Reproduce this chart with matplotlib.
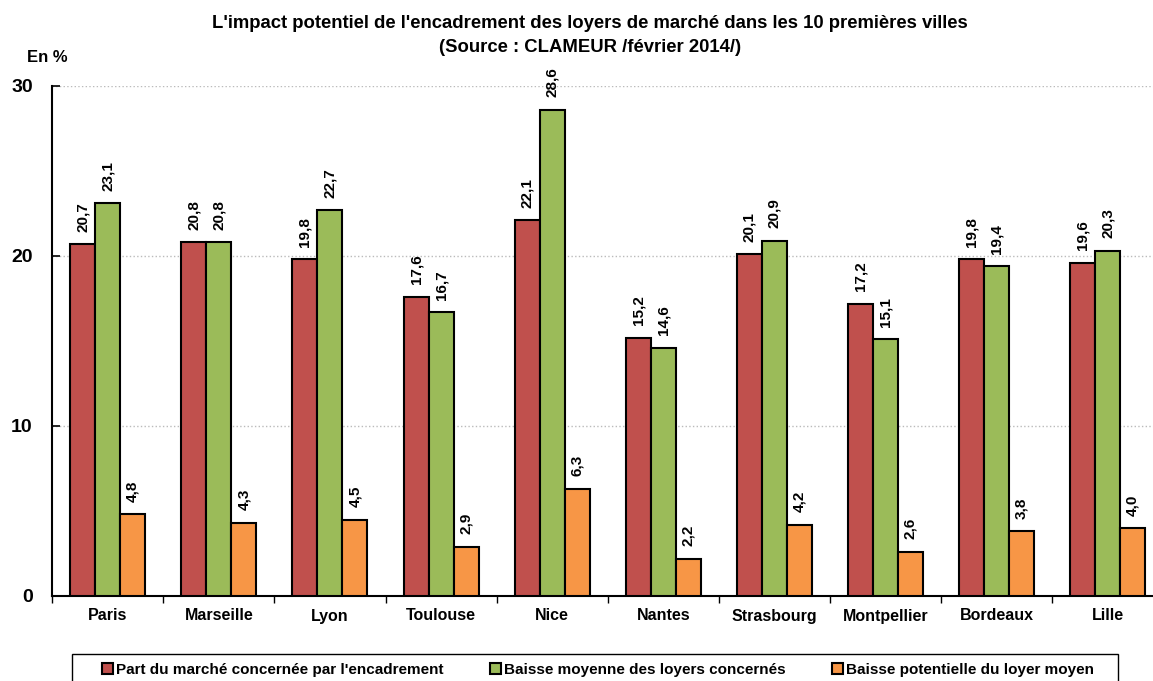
import matplotlib.pyplot as plt
from matplotlib.patches import Rectangle
import numpy as np

villes = ['Paris', 'Marseille', 'Lyon', 'Toulouse', 'Nice', 'Nantes',
          'Strasbourg', 'Montpellier', 'Bordeaux', 'Lille']
part_marche = [20.7, 20.8, 19.8, 17.6, 22.1, 15.2, 20.1, 17.2, 19.8, 19.6]
baisse_moyenne = [23.1, 20.8, 22.7, 16.7, 28.6, 14.6, 20.9, 15.1, 19.4, 20.3]
baisse_potentielle = [4.8, 4.3, 4.5, 2.9, 6.3, 2.2, 4.2, 2.6, 3.8, 4.0]

series = [
    (part_marche, "Part du marché concernée par l'encadrement", '#C0504D'),
    (baisse_moyenne, 'Baisse moyenne des loyers concernés', '#9BBB59'),
    (baisse_potentielle, 'Baisse potentielle du loyer moyen', '#F79646'),
]

plt.rcParams['font.family'] = ['Liberation Sans', 'DejaVu Sans']
plt.rcParams['font.weight'] = 'bold'

W, H = 1153, 681
fig = plt.figure(figsize=(W / 100, H / 100), dpi=100)
ax = fig.add_axes([52.2 / W, 85 / H, 1111 / W, 510 / H])

x = np.arange(len(villes))
bw = 0.225
for i, (vals, label, color) in enumerate(series):
    pos = x + (i - 1) * bw
    ax.bar(pos, vals, width=bw, color=color, edgecolor='black',
           linewidth=1.5, label=label, zorder=3)
    for p, v in zip(pos, vals):
        ax.annotate(f'{v:.1f}'.replace('.', ','), xy=(p, v), xytext=(0, 9),
                    textcoords='offset points', rotation=90, ha='center',
                    va='bottom', fontsize=11, fontweight='bold',
                    annotation_clip=False)

ax.set_xlim(-0.5, len(villes) - 0.5)
ax.set_ylim(0, 30)
ax.set_yticks([0, 10, 20, 30])
ax.tick_params(axis='y', direction='in', length=6, width=1.2, labelsize=14, pad=14)
ax.set_xticks(x)
ax.set_xticklabels(villes, fontsize=11.5, fontweight='bold')
ax.tick_params(axis='x', length=0, pad=9)
ax.set_xticks(np.arange(len(villes) + 1) - 0.5, minor=True)
ax.tick_params(axis='x', which='minor', direction='out', length=5, width=1)
for lab in ax.get_yticklabels():
    lab.set_fontweight('bold')

ax.grid(axis='y', linestyle=':', color='#BBBBBB', linewidth=1, zorder=0)
ax.spines['top'].set_visible(False)
ax.spines['right'].set_visible(False)
ax.spines['left'].set_linewidth(1.5)
ax.spines['bottom'].set_linewidth(1.5)

fig.text(590 / W, 1 - 23 / H, "L'impact potentiel de l'encadrement des loyers de marché dans les 10 premières villes",
         ha='center', va='center', fontsize=13.3, fontweight='bold')
fig.text(590 / W, 1 - 47 / H, '(Source : CLAMEUR /février 2014/)',
         ha='center', va='center', fontsize=13.3, fontweight='bold')
fig.text(27 / W, 1 - 57 / H, 'En %', ha='left', va='center', fontsize=12, fontweight='bold')

# legend box drawn by hand (cut at the bottom edge like the original)
fig.patches.append(Rectangle((72 / W, -10 / H), (1118 - 72) / W, (27 + 10) / H,
                             transform=fig.transFigure, fill=False,
                             edgecolor='black', linewidth=1))
leg = fig.legend(loc='center', bbox_to_anchor=(598 / W, 1 - 670 / H), ncol=3,
                 fontsize=11, frameon=False,
                 handlelength=0.75, handleheight=0.75, handletextpad=0.2,
                 columnspacing=3.0, borderpad=0, borderaxespad=0)
for t in leg.get_texts():
    t.set_fontweight('bold')

plt.savefig('out.png', dpi=100)
